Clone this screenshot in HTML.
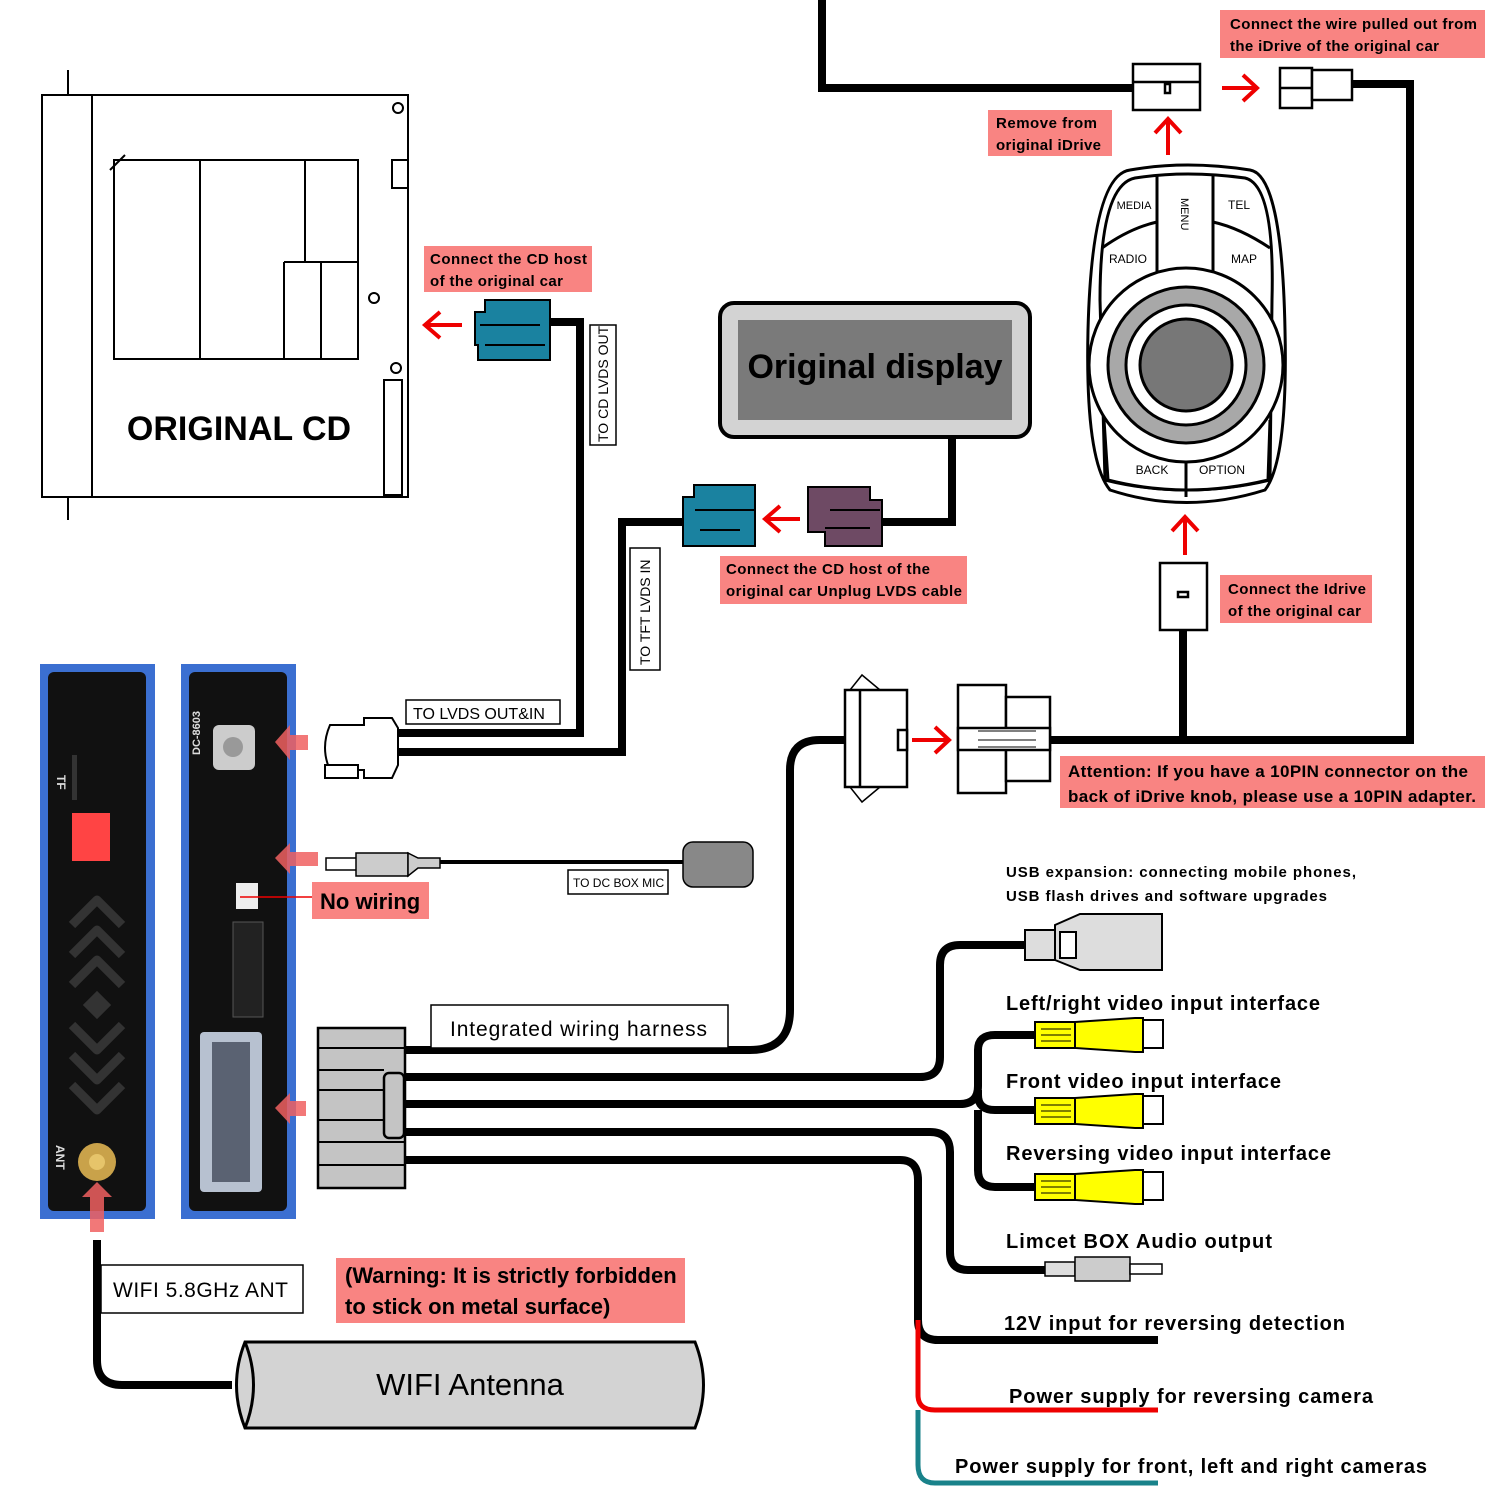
<!DOCTYPE html>
<html><head><meta charset="utf-8"><style>
html,body{margin:0;padding:0;background:#fff}
svg{display:block}
text{font-family:"Liberation Sans",sans-serif}
</style></head><body>
<svg width="1500" height="1500" viewBox="0 0 1500 1500" xmlns="http://www.w3.org/2000/svg">
<defs>
<g id="rca">
<rect x="0" y="0" width="40" height="26" fill="#ff0" stroke="#000" stroke-width="2"/>
<polygon points="40,0 100,-4 108,-4 108,30 100,30 40,26" fill="#ff0" stroke="#000" stroke-width="2"/>
<rect x="108" y="-2" width="20" height="28" fill="#fff" stroke="#000" stroke-width="2"/>
<path d="M6 7h30M6 13h30M6 19h30" stroke="#000" stroke-width="1"/>
</g>
</defs>
<g fill="none" stroke="#000" stroke-width="8">
<path d="M822 0V88H1133"/>
<path d="M1352 84H1410V740H1050"/>
<path d="M1183 630V740"/>
<path d="M952 437V522H882"/>
<path d="M683 522H622V752H398"/>
<path d="M550 322H580V733H398"/>
<path d="M406 1050H750Q790 1050 790 1010V770Q790 740 820 740H845"/>
<path d="M406 1077H920Q940 1077 940 1057V965Q940 945 960 945H1025"/>
<path d="M406 1104H960Q978 1104 978 1086V1050Q978 1035 995 1035H1035"/>
<path d="M978 1090V1095Q978 1110 995 1110H1035"/>
<path d="M978 1110V1170Q978 1187 995 1187H1035"/>
<path d="M406 1132H930Q950 1132 950 1152V1252Q950 1270 968 1270H1045"/>
<path d="M406 1160H900Q918 1160 918 1180V1320Q918 1340 938 1340H1158"/>
<path d="M97 1240V1360Q97 1385 122 1385H232"/>
<path d="M398 862H683" stroke-width="4"/>
</g>
<path d="M918 1320V1395Q918 1410 935 1410H1158" fill="none" stroke="#e00" stroke-width="5"/>
<path d="M918 1410V1465Q918 1483 935 1483H1158" fill="none" stroke="#19828a" stroke-width="5"/>

<!-- CD unit -->
<g stroke="#000" stroke-width="2" fill="#fff">
<rect x="42" y="95" width="366" height="402"/>
<path d="M92 95V497M68 70V95M68 497V520"/>
<rect x="114" y="160" width="244" height="199"/>
<path d="M200 160V359M305 160V262M284 262H358M284 262V359M321 262V359M110 170L125 155"/>
<rect x="384" y="380" width="18" height="115"/>
<circle cx="374" cy="298" r="5"/><circle cx="398" cy="108" r="5"/><circle cx="396" cy="368" r="5"/>
<rect x="392" y="160" width="16" height="28"/>
</g>
<text x="239" y="440" font-size="34" font-weight="bold" text-anchor="middle">ORIGINAL CD</text>

<!-- pink labels -->
<g fill="#f98482">
<rect x="424" y="246" width="168" height="46"/>
<rect x="1220" y="10" width="265" height="48"/>
<rect x="988" y="110" width="124" height="46"/>
<rect x="720" y="556" width="247" height="48"/>
<rect x="1220" y="575" width="152" height="48"/>
<rect x="1060" y="756" width="425" height="52"/>
<rect x="312" y="882" width="117" height="37"/>
<rect x="336" y="1258" width="349" height="65"/>
</g>
<g font-size="15" font-weight="bold">
<text x="430" y="264" textLength="157">Connect the CD host</text><text x="430" y="286" textLength="133">of the original car</text>
<text x="1230" y="29" textLength="247">Connect the wire pulled out from</text><text x="1230" y="51" textLength="209">the iDrive of the original car</text>
<text x="996" y="128" textLength="101">Remove from</text><text x="996" y="150" textLength="105">original iDrive</text>
<text x="726" y="574" textLength="204">Connect the CD host of the</text><text x="726" y="596" textLength="236">original car Unplug LVDS cable</text>
<text x="1228" y="594" textLength="138">Connect the Idrive</text><text x="1228" y="616" textLength="133">of the original car</text>
<text x="1068" y="777" font-size="17" textLength="400">Attention: If you have a 10PIN connector on the</text>
<text x="1068" y="802" font-size="17" textLength="408">back of iDrive knob, please use a 10PIN adapter.</text>
</g>
<text x="320" y="909" font-size="22" font-weight="bold">No wiring</text>
<text x="345" y="1283" font-size="22" font-weight="bold">(Warning: It is strictly forbidden</text>
<text x="345" y="1314" font-size="22" font-weight="bold">to stick on metal surface)</text>

<!-- red arrows -->
<g fill="none" stroke="#e00" stroke-width="4">
<path d="M462 325H426M440 312L425 325L440 338"/>
<path d="M1168 155V120M1155 133L1168 119L1181 133"/>
<path d="M1222 88H1256M1243 75L1257 88L1243 101"/>
<path d="M800 519H766M780 506L765 519L780 532"/>
<path d="M1185 555V518M1172 531L1185 517L1198 531"/>
<path d="M912 740H948M935 727L949 740L935 753"/>
</g>

<!-- top connectors -->
<g stroke="#000" stroke-width="2.5" fill="#fff">
<rect x="1133" y="64" width="67" height="46"/><path d="M1133 82H1200"/><rect x="1165" y="84" width="5" height="9"/>
<rect x="1280" y="68" width="32" height="40"/><path d="M1280 88H1312"/><rect x="1312" y="70" width="40" height="30"/>
<rect x="1160" y="563" width="47" height="67"/><rect x="1178" y="592" width="10" height="5"/>
</g>

<!-- idrive -->
<g stroke="#000" stroke-width="3" fill="#fff">
<path d="M1130 170Q1186 160 1250 170Q1282 175 1285 330Q1288 460 1265 490Q1186 515 1110 490Q1085 460 1088 330Q1092 175 1130 170Z"/>
<path d="M1135 178Q1186 170 1245 178Q1275 185 1272 300L1270 480Q1186 500 1105 480L1100 300Q1100 185 1135 178Z"/>
<path d="M1157 175V272M1213 175V272M1102 248Q1130 228 1157 222M1270 248Q1240 228 1213 222"/>
<path d="M1104 420L1108 480Q1186 500 1268 480L1270 420"/>
<path d="M1186 455V497"/>
<circle cx="1186" cy="365" r="97"/>
<circle cx="1186" cy="365" r="78" fill="#a8a8a8"/>
<circle cx="1186" cy="365" r="60"/>
<circle cx="1186" cy="365" r="46" fill="#777"/>
</g>
<g font-size="12" text-anchor="middle">
<text x="1134" y="209" font-size="11">MEDIA</text><text x="1239" y="209">TEL</text>
<text x="1128" y="263">RADIO</text><text x="1244" y="263">MAP</text>
<text x="1152" y="474">BACK</text><text x="1222" y="474">OPTION</text>
<text transform="translate(1181,198) rotate(90)" font-size="11" text-anchor="start">MENU</text>
</g>

<!-- original display -->
<rect x="720" y="303" width="310" height="134" rx="14" fill="#d3d3d3" stroke="#000" stroke-width="4"/>
<rect x="738" y="320" width="274" height="100" fill="#7a7a7a"/>
<text x="875" y="378" font-size="34" font-weight="bold" text-anchor="middle">Original display</text>

<!-- LVDS connectors -->
<g stroke="#000" stroke-width="2">
<path d="M808 487H870V500H882V546H825V532H808Z" fill="#6e4a64"/>
<path d="M683 497H694V485H755V546H683Z" fill="#1a82a0"/>
<path d="M475 312H485V300H550V360H478V345H475Z" fill="#1a82a0"/>
<path d="M695 510H755M700 530H740M830 510H880M825 528H870M480 325H540M485 345H545" fill="none"/>
</g>
<g fill="#fff" stroke="#000" stroke-width="1.5">
<rect x="590" y="325" width="26" height="120"/>
<rect x="630" y="548" width="30" height="122"/>
<rect x="406" y="700" width="154" height="24"/>
<rect x="568" y="870" width="100" height="24"/>
<rect x="431" y="1005" width="297" height="43"/>
<rect x="101" y="1265" width="202" height="48"/>
</g>
<text transform="translate(608,442) rotate(-90)" font-size="14">TO CD LVDS OUT</text>
<text transform="translate(650,665) rotate(-90)" font-size="14">TO TFT LVDS IN</text>
<text x="413" y="719" font-size="16">TO LVDS OUT&amp;IN</text>
<text x="573" y="887" font-size="12">TO DC BOX MIC</text>
<text x="450" y="1036" font-size="21" textLength="257">Integrated wiring harness</text>
<text x="113" y="1297" font-size="21" textLength="175">WIFI 5.8GHz ANT</text>

<!-- white lvds connector -->
<g stroke="#000" stroke-width="2" fill="#fff">
<path d="M330 725H364V718H392L398 728V765L392 778H364V770H330Q320 748 330 725Z"/>
<rect x="325" y="765" width="33" height="13"/>
</g>

<!-- 10 pin connectors -->
<g stroke="#000" stroke-width="2.5" fill="#fff">
<path d="M850 690L862 675L880 690M850 787L862 802L880 787" fill="none" stroke-width="1.5"/>
<rect x="845" y="690" width="62" height="97"/><path d="M860 690V787"/><rect x="898" y="730" width="9" height="20"/>
<rect x="958" y="685" width="48" height="108"/><rect x="1006" y="697" width="44" height="84"/>
<rect x="958" y="728" width="92" height="22"/><path d="M978 731H1036M978 740H1036M978 747H1036" stroke-width="1"/>
</g>

<!-- devices -->
<rect x="40" y="664" width="115" height="555" fill="#3b6fd1"/>
<rect x="48" y="672" width="98" height="539" rx="6" fill="#111"/>
<rect x="181" y="664" width="115" height="555" fill="#3b6fd1"/>
<rect x="189" y="672" width="98" height="539" rx="6" fill="#111"/>
<rect x="72" y="813" width="38" height="48" fill="#f44"/>
<rect x="72" y="755" width="5" height="45" fill="#333"/>
<g fill="none" stroke="#333" stroke-width="9" stroke-linejoin="round">
<path d="M72 925L97 900L122 925M72 955L97 930L122 955M72 985L97 960L122 985"/>
<path d="M72 1025L97 1050L122 1025M72 1055L97 1080L122 1055M72 1085L97 1110L122 1085"/>
</g>
<rect x="87" y="995" width="20" height="20" fill="#333" transform="rotate(45 97 1005)"/>
<circle cx="97" cy="1162" r="19" fill="#c9a24a"/><circle cx="97" cy="1162" r="8" fill="#e6c46a"/>
<text transform="translate(57,775) rotate(90)" fill="#ddd" font-size="12" font-weight="bold">TF</text>
<text transform="translate(56,1145) rotate(90)" fill="#ddd" font-size="12" font-weight="bold">ANT</text>
<rect x="213" y="725" width="42" height="45" rx="6" fill="#ccc"/><circle cx="233" cy="747" r="10" fill="#999"/>
<rect x="236" y="883" width="22" height="26" fill="#eee"/>
<rect x="233" y="922" width="30" height="95" fill="#222" stroke="#555"/>
<rect x="200" y="1032" width="62" height="160" rx="4" fill="#b7c1d0"/>
<rect x="212" y="1042" width="38" height="140" fill="#5a6272"/>
<text transform="translate(200,755) rotate(-90)" fill="#ddd" font-size="11" font-weight="bold">DC-8603</text>
<g fill="#f06060" opacity="0.85">
<path d="M275 742L290 725V735H308V750H290V760Z"/>
<path d="M275 858L290 843V852H318V866H290V874Z"/>
<path d="M275 1108L290 1093V1101H306V1116H290V1124Z"/>
<path d="M97 1182L112 1197H104V1232H90V1197H82Z"/>
</g>
<path d="M240 897H312" stroke="#e00" stroke-width="1.5"/>

<!-- mic plug -->
<g stroke="#000" stroke-width="1.5">
<rect x="326" y="858" width="32" height="12" fill="#fff"/>
<rect x="356" y="853" width="52" height="23" fill="#ccc"/>
<path d="M408 853L418 858H440V868H418L408 876Z" fill="#ccc"/>
</g>
<rect x="683" y="842" width="70" height="45" rx="10" fill="#888" stroke="#000" stroke-width="1.5"/>

<!-- harness connector -->
<g stroke="#000" stroke-width="2.5" fill="#c4c4c4">
<rect x="318" y="1028" width="87" height="160"/>
<path d="M318 1048H405M318 1070H384M318 1090H384M318 1120H384M318 1142H405M318 1165H405" fill="none" stroke-width="2"/>
<rect x="384" y="1073" width="20" height="65" rx="5"/>
</g>

<!-- USB -->
<g stroke="#000" stroke-width="2">
<rect x="1025" y="930" width="30" height="30" fill="#ddd"/>
<path d="M1055 925L1080 914H1162V970H1080L1055 960Z" fill="#ddd"/>
<rect x="1060" y="932" width="16" height="26" fill="#fff"/>
</g>
<use href="#rca" x="1035" y="1022"/>
<use href="#rca" x="1035" y="1098"/>
<use href="#rca" x="1035" y="1174"/>
<g stroke="#000" stroke-width="1.5">
<rect x="1045" y="1262" width="30" height="14" fill="#ddd"/>
<rect x="1075" y="1257" width="55" height="24" fill="#ccc"/>
<rect x="1130" y="1264" width="32" height="10" fill="#fff"/>
</g>

<g font-size="20" font-weight="bold">
<text x="1006" y="1010" textLength="314">Left/right video input interface</text>
<text x="1006" y="1088" textLength="275">Front video input interface</text>
<text x="1006" y="1160" textLength="325">Reversing video input interface</text>
<text x="1006" y="1248" textLength="266">Limcet BOX Audio output</text>
<text x="1004" y="1330" textLength="341">12V input for reversing detection</text>
<text x="1009" y="1403" textLength="364">Power supply for reversing camera</text>
<text x="955" y="1473" textLength="472">Power supply for front, left and right cameras</text>
</g>
<text x="1006" y="877" font-size="15" font-weight="bold" textLength="350">USB expansion: connecting mobile phones,</text>
<text x="1006" y="901" font-size="15" font-weight="bold" textLength="321">USB flash drives and software upgrades</text>

<!-- antenna -->
<g stroke="#000" stroke-width="3">
<path d="M245 1342H695Q712 1385 695 1428H245Q228 1385 245 1342Z" fill="#d3d3d3"/>
<path d="M245 1342Q262 1385 245 1428" fill="none"/>
</g>
<text x="470" y="1395" font-size="31" text-anchor="middle">WIFI Antenna</text>
</svg>
</body></html>
